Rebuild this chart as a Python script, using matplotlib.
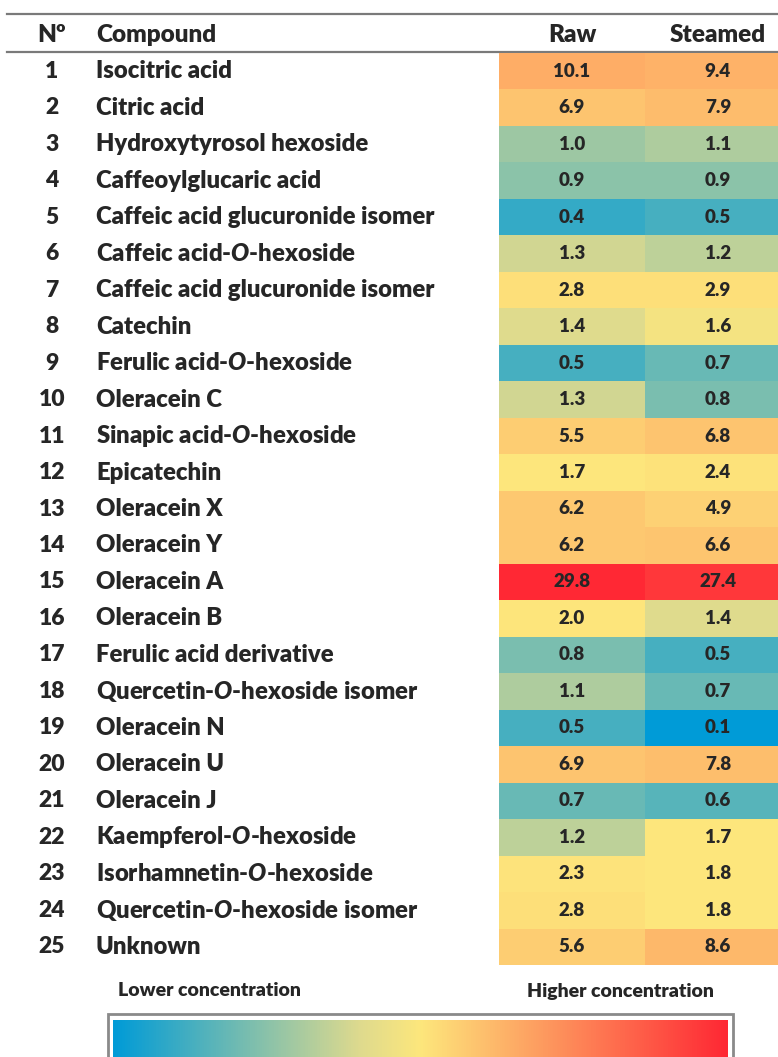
import numpy as np
import matplotlib
matplotlib.use("Agg")
import matplotlib.pyplot as plt
from matplotlib.colors import LinearSegmentedColormap, TwoSlopeNorm
from matplotlib.patches import Rectangle

numbers = list(range(1, 26))
compounds = [
    "Isocitric acid", "Citric acid", "Hydroxytyrosol hexoside", "Caffeoylglucaric acid",
    "Caffeic acid glucuronide isomer", "Caffeic acid-$\\it{O}$-hexoside",
    "Caffeic acid glucuronide isomer", "Catechin", "Ferulic acid-$\\it{O}$-hexoside",
    "Oleracein C", "Sinapic acid-$\\it{O}$-hexoside", "Epicatechin", "Oleracein X",
    "Oleracein Y", "Oleracein A", "Oleracein B", "Ferulic acid derivative",
    "Quercetin-$\\it{O}$-hexoside isomer", "Oleracein N", "Oleracein U", "Oleracein J",
    "Kaempferol-$\\it{O}$-hexoside", "Isorhamnetin-$\\it{O}$-hexoside",
    "Quercetin-$\\it{O}$-hexoside isomer", "Unknown",
]
columns = ["Raw", "Steamed"]
raw = [10.1, 6.9, 1.0, 0.9, 0.4, 1.3, 2.8, 1.4, 0.5, 1.3, 5.5, 1.7, 6.2, 6.2, 29.8,
       2.0, 0.8, 1.1, 0.5, 6.9, 0.7, 1.2, 2.3, 2.8, 5.6]
steamed = [9.4, 7.9, 1.1, 0.9, 0.5, 1.2, 2.9, 1.6, 0.7, 0.8, 6.8, 2.4, 4.9, 6.6, 27.4,
           1.4, 0.5, 0.7, 0.1, 7.8, 0.6, 1.7, 1.8, 1.8, 8.6]
legend_low = "Lower concentration"
legend_high = "Higher concentration"

WT = "heavy"
plt.rcParams['font.family'] = ['Lato', 'DejaVu Sans']
plt.rcParams['mathtext.fontset'] = 'custom'
plt.rcParams['mathtext.it'] = 'Lato:italic:heavy'
plt.rcParams['mathtext.rm'] = 'Lato:heavy'
TXT = "#262626"

W, H = 778, 1057
fig = plt.figure(figsize=(W / 100, H / 100), dpi=100)
bg = fig.add_axes([0, 0, 1, 1])
bg.set_xlim(0, W)
bg.set_ylim(H, 0)
bg.axis("off")

# colormap (blue -> yellow -> red), midpoint at median
cmap = LinearSegmentedColormap.from_list(
    "conc", [(0.0, (0/255, 155/255, 215/255)),
             (0.4, (222/255, 218/255, 142/255)),
             (0.5, (253/255, 231/255, 124/255)),
             (1.0, (255/255, 40/255, 52/255))])
data = np.array([raw, steamed]).T
norm = TwoSlopeNorm(vmin=data.min(), vcenter=np.median(data), vmax=data.max())

# geometry
top, bottom = 53, 965
x0, x1 = 499, 791
n = len(numbers)
pitch = (bottom - top) / n

hm = fig.add_axes([x0 / W, (H - bottom) / H, (x1 - x0) / W, (bottom - top) / H])
hm.pcolormesh(np.arange(3), np.arange(n + 1), data, cmap=cmap, norm=norm)
hm.set_xlim(0, 2)
hm.set_ylim(n, 0)
hm.axis("off")
for i in range(n):
    for j in range(2):
        hm.text(j + 0.5, i + 0.5, f"{data[i, j]:.1f}", ha="center", va="center",
                fontsize=13.5, fontweight=WT, color=TXT)

# header + lines
bg.plot([7, W], [14, 14], color="#7a7a7a", lw=1.6)
bg.plot([7, W], [52, 52], color="#7a7a7a", lw=1.6)
hy = 35
bg.text(52, hy, "Nº", ha="center", va="center", fontsize=17.5, fontweight=WT, color=TXT)
bg.text(96, hy, "Compound", ha="left", va="center", fontsize=17.5, fontweight=WT, color=TXT)
bg.text(572, hy, columns[0], ha="center", va="center", fontsize=17.5,
        fontweight=WT, color=TXT)
bg.text(718, hy, columns[1], ha="center", va="center", fontsize=17.5,
        fontweight=WT, color=TXT)

for i in range(n):
    y = top + pitch * (i + 0.5)
    bg.text(52, y, str(numbers[i]), ha="center", va="center", fontsize=16.5,
            fontweight=WT, color=TXT)
    bg.text(96, y, compounds[i], ha="left", va="center", fontsize=17.2,
            fontweight=WT, color=TXT)

# legend
bg.text(118, 991, legend_low, ha="left", va="center", fontsize=14, fontweight=WT, color=TXT)
bg.text(527, 991, legend_high, ha="left", va="center", fontsize=14, fontweight=WT, color=TXT)
bg.add_patch(Rectangle((108, 1014), 625, 60, facecolor="white", edgecolor="#8a8a8a", lw=2))
cb = fig.add_axes([113 / W, 0, 615 / W, (H - 1020) / H])
cb.imshow(np.linspace(0, 1, 512)[None, :], aspect="auto", cmap=cmap, extent=(0, 1, 0, 1))
cb.axis("off")

fig.savefig("out.png", dpi=100)
